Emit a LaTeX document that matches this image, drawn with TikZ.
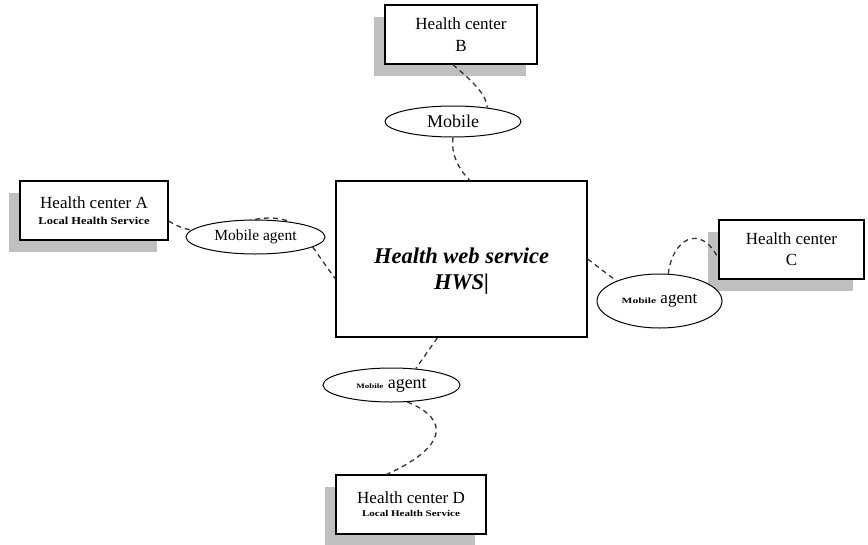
\documentclass[tikz,border=0pt]{standalone}
\usepackage{fontspec}
\setmainfont{Liberation Serif}
\usetikzlibrary{shadows,backgrounds,shapes.geometric}

\newcommand{\fs}[2]{\fontsize{#1}{#2}\selectfont}

\tikzset{
  hcbox/.style={draw=black, line width=1.2pt, fill=white, rectangle,
    inner sep=0pt, minimum width=148pt, minimum height=59pt, align=center,
    font=\fs{17}{21},
    drop shadow={shadow xshift=-11pt, shadow yshift=-12pt, fill=black!25, opacity=1}},
  hwsbox/.style={draw=black, line width=1.2pt, fill=white, rectangle,
    inner sep=0pt, minimum width=251pt, minimum height=156pt, align=center,
    font=\fs{22.5}{26}\bfseries\itshape},
  agent/.style={draw=black, line width=1pt, fill=white, ellipse, inner sep=0pt},
  link/.style={draw=black!80, line width=1.3pt, dash pattern=on 5pt off 4pt},
}

\begin{document}
\begin{tikzpicture}[x=1pt, y=-1pt]
\useasboundingbox (0,0) rectangle (868,544);

% health centres
\node[hcbox] (A) at (94,210.5)
  {Health center A\\[-5pt]\scalebox{1}[0.85]{\fs{12.5}{14}\bfseries Local Health Service}};
\node[hcbox, minimum width=152pt, font=\fs{17}{22}] (B) at (461,34.5)
  {Health center\\B};
\node[hcbox, minimum width=145pt] (C) at (791.5,249.5)
  {Health center\\C};
\node[hcbox, minimum width=150pt] (D) at (411,504.5)
  {Health center D\\[-8pt]\scalebox{1}[0.8]{\fs{11}{13}\bfseries Local Health Service}};

% central web service (text sits a little below the middle)
\node[hwsbox] (HWS) at (461.5,259)
  {\rule{0pt}{40pt}Health web service\\HWS|};

% mobile agents
\node[agent, minimum width=136pt, minimum height=31pt, font=\fs{18}{20}] (M1) at (453,121.5)
  {Mobile};
\node[agent, minimum width=139pt, minimum height=34pt, font=\fs{15.5}{18}] (M2) at (255.5,237)
  {Mobile agent};
\node[agent, minimum width=125pt, minimum height=54pt, font=\fs{17}{20}] (M3) at (659.5,301)
  {\scalebox{1}[0.7]{\fs{11.5}{13}\bfseries Mobile} agent};
\node[agent, minimum width=137pt, minimum height=34pt, font=\fs{18}{20}] (M4) at (391.5,385)
  {\scalebox{1}[0.75]{\fs{9}{11}\bfseries Mobile} agent};

% connectors
\begin{scope}[on background layer]
  \draw[link] (A.-8) .. controls (215,250) and (245,205) .. (M2.23);
\end{scope}
\draw[link] (M2.-10) -- (HWS.189);
\draw[link] (B.255) .. controls (468,78) and (486,92) .. (M1.22);
\draw[link] (M1.south) .. controls (451,155) and (458,168) .. (HWS.84.5);
\draw[link] (HWS.east) -- (M3.155);
\draw[link] (M3.72) .. controls (672,240) and (700,222) .. (C.187);
\draw[link] (HWS.253) -- (M4.34);
\draw[link] (M4.-47) .. controls (452,420) and (445,448) .. (D.129);
\end{tikzpicture}
\end{document}
